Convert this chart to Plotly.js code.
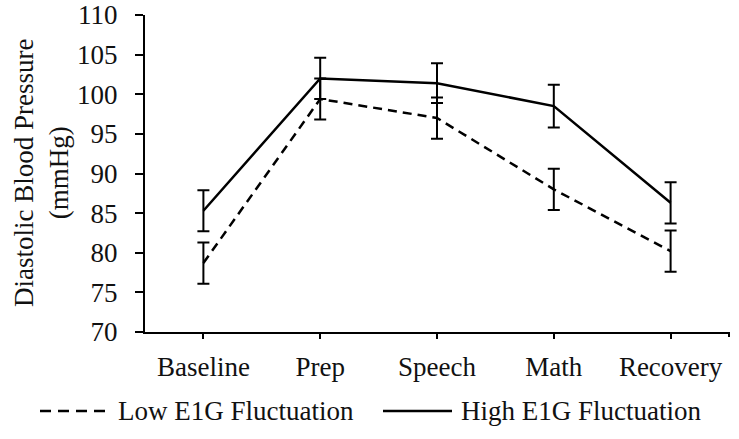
<!DOCTYPE html>
<html>
<head>
<meta charset="utf-8">
<script src="https://cdn.plot.ly/plotly-3.0.1.min.js"></script>
<style>html,body{margin:0;padding:0;background:#fff;}#chart{width:739px;height:439px;}</style>
</head>
<body>
<div id="chart"></div>
<script>
const categories = ["Baseline", "Prep", "Speech", "Math", "Recovery"];
const lowValues = [78.7, 99.4, 97.0, 88.0, 80.2];
const lowErrors = [2.6, 2.6, 2.6, 2.6, 2.6];
const highValues = [85.3, 102.0, 101.4, 98.5, 86.3];
const highErrors = [2.6, 2.6, 2.5, 2.7, 2.6];
const seriesNames = ["Low E1G Fluctuation", "High E1G Fluctuation"];
const yTitleLines = ["Diastolic Blood Pressure", "(mmHg)"];

const FONT = "Liberation Serif, Times New Roman, serif";
const FS = 27;

const traces = [
  {
    type: "scatter", mode: "lines", name: seriesNames[0],
    x: categories, y: lowValues,
    line: {color: "#000", width: 2.5, dash: "9px,6px"},
    error_y: {type: "data", array: lowErrors, visible: true, color: "#000", thickness: 2, width: 6},
    showlegend: false
  },
  {
    type: "scatter", mode: "lines", name: seriesNames[1],
    x: categories, y: highValues,
    line: {color: "#000", width: 2.5},
    error_y: {type: "data", array: highErrors, visible: true, color: "#000", thickness: 2, width: 6},
    showlegend: false
  }
];

const LY = (332 - 411) / 317;

const layout = {
  width: 739, height: 439,
  margin: {l: 145, r: 10, t: 15, b: 107},
  paper_bgcolor: "#fff", plot_bgcolor: "#fff",
  font: {family: FONT, size: FS, color: "#111"},
  showlegend: false,
  xaxis: {
    type: "category", range: [-0.5, 4.5],
    showline: true, linecolor: "#000", linewidth: 2,
    ticks: "outside", ticklen: 5, tickwidth: 2, tickcolor: "#000",
    showgrid: false, zeroline: false,
    tickfont: {family: FONT, size: FS, color: "#111"},
    ticklabelstandoff: 5
  },
  yaxis: {
    range: [70, 110], dtick: 5, tick0: 70,
    showline: true, linecolor: "#000", linewidth: 2,
    ticks: "outside", ticklen: 8, tickwidth: 2, tickcolor: "#000",
    showgrid: false, zeroline: false,
    tickfont: {family: FONT, size: FS, color: "#111"},
    ticklabelstandoff: 12
  },
  shapes: [
    {type: "line", xref: "paper", yref: "paper", xsizemode: "scaled", ysizemode: "pixel", yanchor: 0, x0: 1, x1: 1, y0: 0, y1: -5, line: {color: "#000", width: 2}},
    {type: "line", xref: "paper", yref: "paper", x0: (40-145)/584, x1: (108-145)/584, y0: LY, y1: LY, line: {color: "#000", width: 2.5, dash: "11px,7px"}},
    {type: "line", xref: "paper", yref: "paper", x0: (383-145)/584, x1: (452-145)/584, y0: LY, y1: LY, line: {color: "#000", width: 2.5}}
  ],
  annotations: [
    {xref: "paper", yref: "paper", x: (116-145)/584, y: LY, xanchor: "left", yanchor: "middle", text: seriesNames[0], showarrow: false, font: {family: FONT, size: FS, color: "#111"}},
    {xref: "paper", yref: "paper", x: (459-145)/584, y: LY, xanchor: "left", yanchor: "middle", text: seriesNames[1], showarrow: false, font: {family: FONT, size: FS, color: "#111"}},
    {xref: "paper", yref: "paper", x: (76-145)/584, y: 0.5, xanchor: "right", yanchor: "middle", textangle: -90, text: yTitleLines.join("<br>"), showarrow: false, font: {family: FONT, size: FS, color: "#111"}}
  ]
};

Plotly.newPlot("chart", traces, layout, {displayModeBar: false, staticPlot: true});
</script>
</body>
</html>
